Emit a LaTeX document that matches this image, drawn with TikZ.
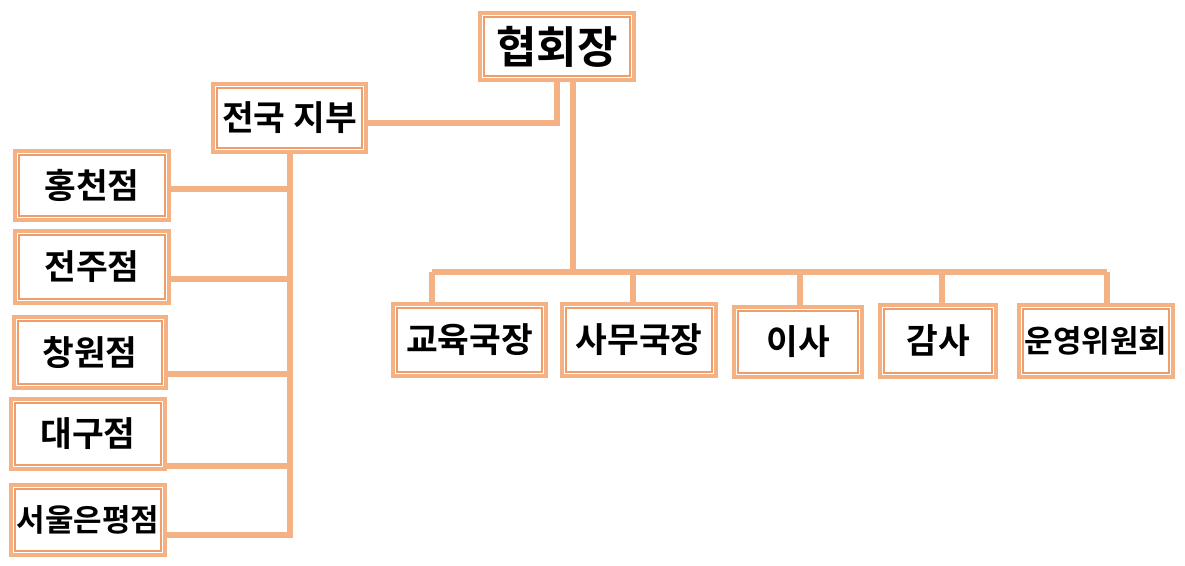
\documentclass[tikz,border=0pt]{standalone}
\usepackage{fontspec}
\setmainfont{Noto Sans CJK KR}[BoldFont={Noto Sans CJK KR Bold}]
\definecolor{peach}{HTML}{F4B183}
\definecolor{peachdark}{HTML}{EE9E6A}
\tikzset{
  box/.style={draw=peach, line width=4pt, fill=white, inner sep=0pt, font=\bfseries\fontsize{34.5}{38}\selectfont, text=black},
  inner/.style={draw=peachdark, line width=1.6pt},
  conn/.style={draw=peach, line width=5.5pt}
}
\begin{document}
\begin{tikzpicture}[x=1pt,y=-1pt]
\useasboundingbox (0,0) rectangle (1185,565);
\coordinate (c1) at (557,123);
\coordinate (c2) at (573,272);
\coordinate (b1) at (432,272);
\coordinate (b5) at (1107,272);
\coordinate (l0) at (290,535);

% connectors (drawn first, boxes on top)
\draw[conn] (557,80) -- (c1) -- (366,123);
\draw[conn] (573,80) -- (c2);
\draw[conn] (b1) -- (b5);
\draw[conn] (b1) -- (432,304);
\draw[conn] (633,272) -- (633,304);
\draw[conn] (800,272) -- (800,306);
\draw[conn] (942,272) -- (942,305);
\draw[conn] (b5) -- (1107,305);
\draw[conn] (290,152) -- (l0) -- (165,535);
\draw[conn] (169,189) -- (290,189);
\draw[conn] (169,279) -- (290,279);
\draw[conn] (166,374) -- (290,374);
\draw[conn] (165,466) -- (290,466);

% nodes
\node[box, minimum width=154pt, minimum height=67pt] (hq) at (557,46.5) {\fontsize{44}{48}\selectfont 협회장};
\node[box, minimum width=153pt, minimum height=68pt] (jibu) at (289.5,118) {전국 지부};
\node[box, minimum width=154pt, minimum height=69pt] (hong) at (92,185.5) {홍천점};
\node[box, minimum width=154pt, minimum height=72pt] (jeonju) at (92,267) {전주점};
\node[box, minimum width=152pt, minimum height=71pt] (chang) at (90,352.5) {창원점};
\node[box, minimum width=154pt, minimum height=70pt] (daegu) at (88,434) {대구점};
\node[box, minimum width=154pt, minimum height=70pt] (seoul) at (88,520) {\fontsize{31}{34}\selectfont 서울은평점};
\node[box, minimum width=153pt, minimum height=72pt] (edu) at (469.5,340) {교육국장};
\node[box, minimum width=154pt, minimum height=72pt] (samu) at (639,340) {사무국장};
\node[box, minimum width=128pt, minimum height=70pt] (isa) at (798,342) {이사};
\node[box, minimum width=116pt, minimum height=72pt] (gamsa) at (938,341) {감사};
\node[box, minimum width=154pt, minimum height=72pt] (unyeong) at (1096,341) {\fontsize{31}{34}\selectfont 운영위원회};

\foreach \n in {hq,jibu,hong,jeonju,chang,daegu,seoul,edu,samu,isa,gamsa,unyeong}
  \draw[inner] ([xshift=6pt,yshift=6pt]\n.south west) rectangle ([xshift=-6pt,yshift=-6pt]\n.north east);
\end{tikzpicture}
\end{document}
